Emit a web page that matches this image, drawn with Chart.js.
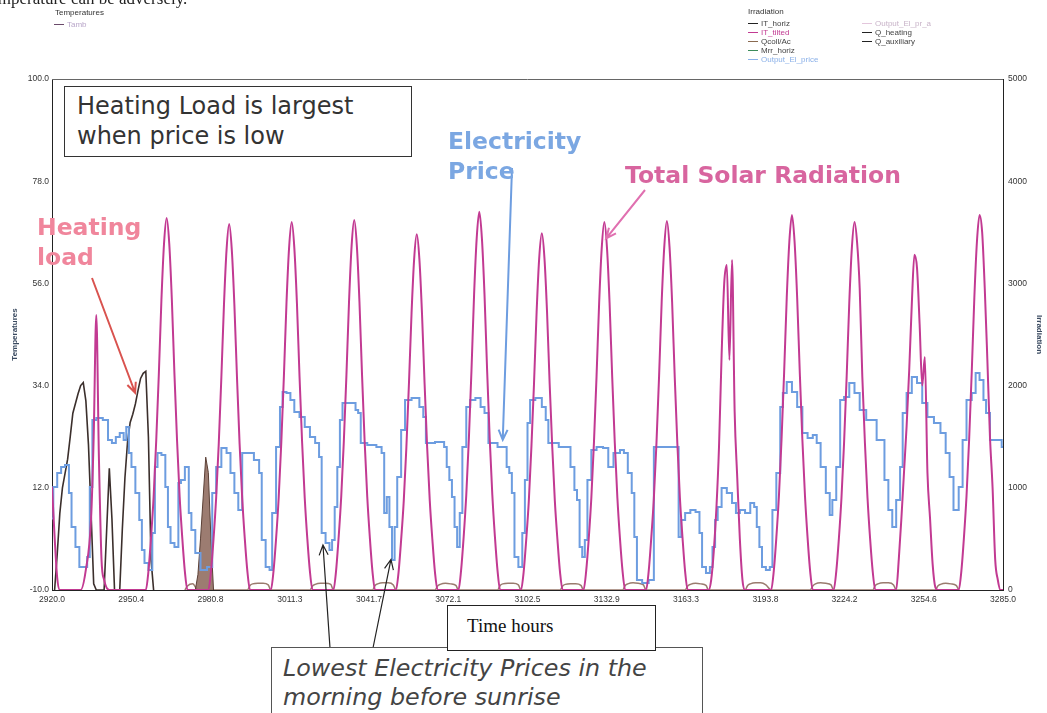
<!DOCTYPE html>
<html>
<head>
<meta charset="utf-8">
<script src="https://cdn.jsdelivr.net/npm/chart.js@4.4.1/dist/chart.umd.min.js"></script>
<style>
body { margin:0; background:#fff; width:1047px; height:713px; overflow:hidden; position:relative; }
#c { position:absolute; left:0; top:0; }
.lg { position:absolute; font:8px "Liberation Sans", Arial, sans-serif; color:#444; white-space:nowrap; line-height:9px; }
.sw { display:inline-block; width:10px; height:0; border-top:1.5px solid #222; vertical-align:middle; margin-right:3px; }
.box { position:absolute; background:#fff; box-sizing:border-box; }
.tag { position:absolute; font-family:"DejaVu Sans", Verdana, sans-serif; font-weight:bold; font-size:23.5px; line-height:30px; white-space:nowrap; }
</style>
</head>
<body>
<canvas id="c" width="1047" height="713"></canvas>

<div style="position:absolute;left:-19px;top:-11px;font:17px 'Liberation Serif',serif;color:#222;white-space:nowrap">Temperature can be adversely.</div>

<div class="lg" style="left:55px;top:8px;color:#333">Temperatures</div>
<div class="lg" style="left:54px;top:20px"><span class="sw" style="border-color:#6a4a6a"></span><span style="color:#b9a6c9">Tamb</span></div>

<div class="lg" style="left:748px;top:7px;color:#333">Irradiation</div>
<div class="lg" style="left:748px;top:19px"><span class="sw"></span>IT_horiz</div>
<div class="lg" style="left:748px;top:28px;color:#c23a92"><span class="sw" style="border-color:#c23a92"></span>IT_tilted</div>
<div class="lg" style="left:748px;top:37px"><span class="sw" style="border-color:#8a6a50"></span>Qcoll/Ac</div>
<div class="lg" style="left:748px;top:46px"><span class="sw" style="border-color:#3c8c5a"></span>Mrr_horiz</div>
<div class="lg" style="left:748px;top:55px;color:#8ab0e8"><span class="sw" style="border-color:#8ab0e8"></span>Output_El_price</div>
<div class="lg" style="left:862px;top:19px;color:#c9b4c9"><span class="sw" style="border-color:#e3c6dc"></span>Output_El_pr_a</div>
<div class="lg" style="left:862px;top:28px"><span class="sw"></span>Q_heating</div>
<div class="lg" style="left:862px;top:37px"><span class="sw"></span>Q_auxiliary</div>

<div class="box" style="left:64px;top:86px;width:348px;height:71px;border:1px solid #333;padding:4px 0 0 12px;font:24px 'DejaVu Sans',Verdana,sans-serif;line-height:30px;color:#333">Heating Load is largest<br>when price is low</div>

<div class="tag" style="left:448px;top:126px;color:#7ba7e2">Electricity<br>Price</div>
<div class="tag" style="left:625px;top:160px;color:#d8659f">Total Solar Radiation</div>
<div class="tag" style="left:37px;top:212px;color:#f0869c">Heating<br>load</div>

<div class="box" style="left:271px;top:647px;width:432px;height:80px;border:1px solid #555;padding:6px 0 0 11px;font:italic 23.8px 'DejaVu Sans',Verdana,sans-serif;line-height:29px;color:#444">Lowest Electricity Prices in the<br>morning before sunrise</div>
<div class="box" style="left:447px;top:605px;width:209px;height:46px;border:1.5px solid #222;padding:9px 0 0 19px;font:19px 'Liberation Serif','Times New Roman',serif;color:#111">Time hours</div>

<script>
// axis ticks
const xTicks = [2920.0, 2950.4, 2980.8, 3011.3, 3041.7, 3072.1, 3102.5, 3132.9, 3163.3, 3193.8, 3224.2, 3254.6, 3285.0];
const tempTicks = [-10, 12, 34, 56, 78, 100];
const irrTicks = [0, 1000, 2000, 3000, 4000, 5000];

// IT_tilted, total radiation on the tilted surface
const solarHours = [
  2920, 2921, 2922, 2923,
  2931, 2933, 2935, 2936, 2937, 2938, 2939, 2940, 2942,
  2956, 2957, 2958, 2959, 2960, 2961, 2962, 2963, 2964, 2965, 2966, 2967, 2968, 2969, 2970, 2971, 2972,
  2980, 2981, 2982, 2983, 2984, 2985, 2986, 2987, 2988, 2989, 2990, 2991, 2992, 2993, 2994, 2995, 2996,
  3004, 3005, 3006, 3007, 3008, 3009, 3010, 3011, 3012, 3013, 3014, 3015, 3016, 3017, 3018, 3019, 3020,
  3028, 3029, 3030, 3031, 3032, 3033, 3034, 3035, 3036, 3037, 3038, 3039, 3040, 3041, 3042, 3043, 3044,
  3052, 3053, 3054, 3055, 3056, 3057, 3058, 3059, 3060, 3061, 3062, 3063, 3064, 3065, 3066, 3067, 3068,
  3076, 3077, 3078, 3079, 3080, 3081, 3082, 3083, 3084, 3085, 3086, 3087, 3088, 3089, 3090, 3091, 3092,
  3100, 3101, 3102, 3103, 3104, 3105, 3106, 3107, 3108, 3109, 3110, 3111, 3112, 3113, 3114, 3115, 3116,
  3124, 3125, 3126, 3127, 3128, 3129, 3130, 3131, 3132, 3133, 3134, 3135, 3136, 3137, 3138, 3139, 3140,
  3148, 3149, 3150, 3151, 3152, 3153, 3154, 3155, 3156, 3157, 3158, 3159, 3160, 3161, 3162, 3163, 3164,
  3172, 3173, 3174, 3175, 3176, 3177, 3178, 3179, 3180, 3181, 3182, 3183, 3184, 3185, 3186,
  3196, 3197, 3198, 3199, 3200, 3201, 3202, 3203, 3204, 3205, 3206, 3207, 3208, 3209, 3210, 3211, 3212,
  3220, 3221, 3222, 3223, 3224, 3225, 3226, 3227, 3228, 3229, 3230, 3231, 3232, 3233, 3234, 3235, 3236,
  3244, 3245, 3246, 3247, 3248, 3249, 3250, 3251, 3252, 3253, 3254, 3255, 3256, 3257, 3258, 3259, 3260,
  3268, 3269, 3270, 3271, 3272, 3273, 3274, 3275, 3276, 3277, 3278, 3279, 3280, 3281, 3282, 3283, 3284, 3285
];
const solarValues = [
  1010, 520, 120, 0,
  0, 200, 700, 1500, 2690, 1300, 300, 100, 0,
  0, 180, 510, 910, 1460, 2110, 2840, 3390, 3640, 3390, 2840, 2110, 1460, 910, 510, 180, 0,
  0, 180, 500, 900, 1430, 2080, 2790, 3330, 3580, 3330, 2790, 2080, 1430, 900, 500, 180, 0,
  0, 180, 500, 900, 1440, 2090, 2810, 3350, 3600, 3350, 2810, 2090, 1440, 900, 500, 180, 0,
  0, 180, 510, 910, 1450, 2100, 2820, 3370, 3620, 3370, 2820, 2100, 1450, 910, 510, 180, 0,
  0, 170, 490, 870, 1390, 2020, 2710, 3240, 3480, 3240, 2710, 2020, 1390, 870, 490, 170, 0,
  0, 190, 520, 930, 1480, 2150, 2890, 3440, 3700, 3440, 2890, 2150, 1480, 930, 520, 190, 0,
  0, 170, 490, 870, 1400, 2020, 2720, 3250, 3490, 3250, 2720, 2020, 1400, 870, 490, 170, 0,
  0, 180, 500, 900, 1440, 2090, 2810, 3350, 3600, 3350, 2810, 2090, 1440, 900, 500, 180, 0,
  0, 180, 510, 900, 1440, 2090, 2820, 3360, 3610, 3360, 2820, 2090, 1440, 900, 510, 180, 0,
  0, 100, 380, 800, 1400, 2300, 3000, 3180, 2250, 3230, 1750, 1100, 500, 100, 0,
  0, 180, 510, 920, 1470, 2130, 2860, 3410, 3670, 3410, 2860, 2130, 1470, 920, 510, 180, 0,
  0, 180, 500, 900, 1440, 2090, 2810, 3350, 3600, 3400, 2950, 2090, 1440, 900, 500, 180, 0,
  0, 300, 700, 1150, 1600, 2150, 2800, 3280, 3150, 2600, 2000, 2280, 1150, 700, 250, 30, 0,
  0, 180, 510, 920, 1470, 2130, 2860, 3410, 3670, 3500, 2950, 2250, 1500, 1000, 300, 100, 0, 0
];

// Output_El_price, hourly electricity price
const priceHours = [
  2920, 2921, 2923, 2924, 2926, 2927, 2928, 2930, 2931, 2933, 2934, 2935, 2936, 2938, 2941, 2942, 2944, 2945, 2947, 2948,
  2949, 2950, 2951, 2953, 2954, 2955, 2956, 2958, 2959, 2960, 2961, 2963, 2964, 2965, 2966, 2968, 2969, 2970, 2972, 2973,
  2974, 2976, 2978, 2981, 2982, 2984, 2986, 2988, 2989, 2991, 2992, 2994, 2996, 2999, 3000, 3001, 3003, 3004, 3005, 3007,
  3008, 3009, 3011, 3012, 3014, 3016, 3018, 3020, 3022, 3023, 3024, 3026, 3027, 3028, 3029, 3030, 3031, 3032, 3036, 3037,
  3038, 3039, 3043, 3046, 3047, 3048, 3049, 3050, 3051, 3052, 3053, 3055, 3056, 3060, 3062, 3063, 3064, 3070, 3071, 3072,
  3073, 3074, 3075, 3076, 3077, 3078, 3080, 3081, 3084, 3085, 3087, 3088, 3094, 3095, 3096, 3097, 3098, 3100, 3101, 3102,
  3103, 3104, 3107, 3109, 3110, 3111, 3118, 3120, 3121, 3122, 3123, 3124, 3125, 3126, 3128, 3130, 3133, 3134, 3137, 3139,
  3140, 3142, 3143, 3144, 3145, 3148, 3150, 3152, 3160, 3161, 3162, 3164, 3166, 3168, 3169, 3170, 3172, 3173, 3174, 3175,
  3176, 3178, 3180, 3182, 3183, 3185, 3187, 3189, 3190, 3191, 3192, 3193, 3195, 3196, 3197, 3199, 3200, 3201, 3203, 3205,
  3207, 3209, 3211, 3213, 3214, 3216, 3218, 3219, 3220, 3222, 3223, 3225, 3227, 3229, 3231, 3234, 3239, 3240, 3242, 3243,
  3245, 3246, 3247, 3249, 3251, 3253, 3255, 3257, 3260, 3262, 3264, 3265, 3267, 3269, 3270, 3272, 3274, 3275, 3277, 3278,
  3279, 3281, 3284, 3285
];
const priceValues = [
  700, 1008, 1145, 1204, 1223, 949, 616, 421, 225, 225, 323, 1008, 1663, 1683, 1663, 1468, 1438, 1497, 1536, 1468,
  1595, 1341, 1204, 949, 685, 391, 264, 196, 558, 1204, 1341, 1321, 1008, 616, 460, 421, 1047, 1076, 1204, 753,
  587, 362, 196, 225, 949, 1204, 1390, 1341, 1145, 949, 783, 1341, 1341, 1272, 1145, 489, 225, 196, 753, 1399,
  1791, 1937, 1928, 1859, 1742, 1693, 1595, 1497, 1438, 1301, 558, 460, 391, 489, 812, 1204, 1663, 1830, 1830, 1761,
  1732, 1438, 1419, 1399, 1341, 753, 910, 616, 294, 616, 1106, 1566, 1859, 1879, 1791, 1693, 1438, 1448, 1399, 1204,
  1076, 910, 616, 421, 753, 1399, 1791, 1859, 1879, 1791, 1732, 1438, 1399, 1204, 1145, 949, 323, 225, 558, 1076,
  1634, 1859, 1879, 1791, 1663, 1438, 1399, 1204, 979, 881, 421, 323, 489, 1076, 1370, 1399, 1390, 1204, 1341, 1370,
  1341, 1145, 949, 519, 98, 68, 98, 1399, 1399, 519, 685, 753, 783, 763, 558, 225, 166, 225, 421, 685,
  812, 998, 949, 851, 753, 783, 753, 851, 812, 616, 421, 225, 196, 225, 783, 1145, 1791, 1928, 2035, 1937,
  1791, 1536, 1487, 1517, 1438, 1204, 949, 734, 881, 1204, 1859, 1889, 2025, 1928, 1761, 1663, 1468, 1076, 783, 616,
  881, 1204, 1732, 1928, 2084, 2025, 1830, 1693, 1634, 1536, 1341, 1106, 783, 1008, 1468, 1859, 1928, 2123, 2055, 1859,
  1732, 1468, 1468, 1399
];

// Q_heating, space heating load
const heatHours = [
  2921, 2922, 2923, 2924, 2926, 2927, 2928, 2930, 2931, 2932, 2933, 2934, 2935, 2936, 2937,
  2940, 2941, 2942, 2943, 2944,
  2946, 2947, 2948, 2949, 2950, 2951, 2952, 2953, 2954, 2955, 2956, 2957, 2958, 2959
];
const heatValues = [
  0, 350, 750, 1000, 1280, 1500, 1730, 1920, 2000, 2030, 1850, 1420, 750, 60, 0,
  0, 600, 1190, 700, 0,
  0, 600, 1100, 1450, 1640, 1720, 1820, 1950, 2070, 2120, 2140, 1500, 300, 0
];

// Q_heating burst on the third day (dense on/off switching)
const burstHours = [2975, 2976, 2977, 2978, 2979, 2980, 2981, 2982];
const burstValues = [0, 150, 500, 900, 1300, 1150, 500, 0];

// Q_auxiliary, small night-time load
const auxHours = [
  2971, 2972, 2974, 2976,
  2995, 2996, 2997, 2999, 3001, 3003, 3004,
  3019, 3020, 3021, 3023, 3025, 3027, 3028,
  3043, 3044, 3045, 3047, 3049, 3051, 3052,
  3067, 3068, 3069, 3071, 3073, 3075, 3076,
  3091, 3092, 3093, 3095, 3097, 3099, 3100,
  3115, 3116, 3117, 3119, 3121, 3123, 3124,
  3139, 3140, 3141, 3143, 3145, 3147, 3148,
  3163, 3164, 3165, 3167, 3169, 3171, 3172,
  3186, 3187, 3188, 3190, 3192, 3194, 3196,
  3211, 3212, 3213, 3215, 3217, 3219, 3220,
  3235, 3236, 3237, 3239, 3241, 3243, 3244,
  3259, 3260, 3261, 3263, 3265, 3267, 3268
];
const auxValues = [
  0, 40, 60, 0,
  0, 45, 60, 65, 65, 50, 0,
  0, 40, 55, 65, 65, 55, 0,
  0, 45, 60, 70, 70, 50, 0,
  0, 40, 55, 65, 60, 45, 0,
  0, 45, 60, 65, 65, 50, 0,
  0, 40, 55, 60, 60, 45, 0,
  0, 45, 60, 70, 65, 50, 0,
  0, 40, 55, 65, 60, 45, 0,
  0, 45, 60, 70, 70, 50, 0,
  0, 40, 60, 70, 65, 50, 0,
  0, 45, 60, 70, 70, 50, 0,
  0, 40, 55, 65, 60, 45, 0
];

// annotation arrows: tail in page pixels, head at a chart value
const pointers = [
  { from: [512, 168], hour: 3093, value: 1470, color: '#6d9de0', width: 2 },
  { from: [645, 190], hour: 3132.7, value: 3440, color: '#e070b0', width: 2 },
  { from: [92, 278], hour: 2951.9, value: 1930, color: '#d9534f', width: 2 },
  { from: [330, 648], hour: 3024, value: 440, color: '#222', width: 1.2 },
  { from: [373, 648], hour: 3050.1, value: 300, color: '#222', width: 1.2 }
];

function pts(hours, values) {
  return hours.map((h, i) => ({ x: h, y: values[i] }));
}

function drawArrow(ctx, x1, y1, x2, y2, color, width) {
  const ang = Math.atan2(y2 - y1, x2 - x1);
  const len = 11, spread = 0.42;
  ctx.strokeStyle = color;
  ctx.lineWidth = width;
  ctx.beginPath();
  ctx.moveTo(x1, y1);
  ctx.lineTo(x2, y2);
  ctx.moveTo(x2 - len * Math.cos(ang - spread), y2 - len * Math.sin(ang - spread));
  ctx.lineTo(x2, y2);
  ctx.lineTo(x2 - len * Math.cos(ang + spread), y2 - len * Math.sin(ang + spread));
  ctx.stroke();
}

const overlay = {
  id: 'overlay',
  afterDatasetsDraw(chart) {
    const { ctx, chartArea: a, scales } = chart;
    ctx.save();
    // top edge of the plot frame
    ctx.strokeStyle = '#666';
    ctx.lineWidth = 1;
    ctx.beginPath();
    ctx.moveTo(a.left, a.top + 0.5);
    ctx.lineTo(a.right, a.top + 0.5);
    ctx.stroke();
    pointers.forEach(p => {
      drawArrow(ctx, p.from[0], p.from[1],
        scales.x.getPixelForValue(p.hour), scales.yI.getPixelForValue(p.value), p.color, p.width);
    });
    ctx.restore();
  }
};

const tickFont = { family: 'Liberation Sans', size: 8.5 };
const titleFont = { family: 'Liberation Sans', size: 8, weight: 'bold' };

new Chart(document.getElementById('c'), {
  type: 'line',
  data: {
    datasets: [
      { label: 'IT_tilted', data: pts(solarHours, solarValues), yAxisID: 'yI',
        borderColor: '#c23a92', borderWidth: 2, cubicInterpolationMode: 'monotone', order: 0 },
      { label: 'Output_El_price', data: pts(priceHours, priceValues), yAxisID: 'yI',
        borderColor: '#6d9de0', borderWidth: 2, stepped: 'middle', order: 1 },
      { label: 'Q_heating', data: pts(heatHours, heatValues), yAxisID: 'yI',
        borderColor: '#3b2f2c', borderWidth: 1.6, order: 2 },
      { label: 'Q_heating burst', data: pts(burstHours, burstValues), yAxisID: 'yI',
        borderColor: '#5a3f35', backgroundColor: 'rgba(139,101,88,0.85)', borderWidth: 1, fill: 'origin', order: 3 },
      { label: 'Q_auxiliary', data: pts(auxHours, auxValues), yAxisID: 'yI',
        borderColor: '#9a7b6e', borderWidth: 1.5, cubicInterpolationMode: 'monotone', order: 4 }
    ]
  },
  options: {
    responsive: false,
    animation: false,
    devicePixelRatio: 1,
    layout: { padding: { top: 79, bottom: 103, left: 0, right: 0 } },
    elements: { point: { radius: 0 }, line: { tension: 0 } },
    plugins: { legend: { display: false }, tooltip: { enabled: false } },
    scales: {
      x: {
        type: 'linear', min: 2920, max: 3285,
        afterBuildTicks: s => { s.ticks = xTicks.map(v => ({ value: v })); },
        afterFit: s => { s.height = 20; },
        ticks: { autoSkip: false, maxRotation: 0, padding: 5, color: '#333', font: tickFont,
          callback: v => v.toFixed(1) },
        grid: { display: false, drawTicks: false },
        border: { color: '#222', width: 1 }
      },
      yT: {
        position: 'left', min: -10, max: 100,
        afterBuildTicks: s => { s.ticks = tempTicks.map(v => ({ value: v })); },
        afterFit: s => { s.width = 52; },
        ticks: { padding: 3, color: '#333', font: tickFont, callback: v => v.toFixed(1) },
        grid: { display: false, drawTicks: false },
        border: { color: '#222', width: 1 },
        title: { display: true, text: 'Temperatures', color: '#3a4a60', font: titleFont, padding: { top: 10, bottom: 0 } }
      },
      yI: {
        position: 'right', min: 0, max: 5000,
        afterBuildTicks: s => { s.ticks = irrTicks.map(v => ({ value: v })); },
        afterFit: s => { s.width = 44; },
        ticks: { padding: 5, color: '#333', font: tickFont, callback: v => String(v) },
        grid: { display: false, drawTicks: false },
        border: { color: '#222', width: 1 },
        title: { display: true, text: 'Irradiation', color: '#3a4a60', font: titleFont, padding: { top: 3, bottom: 0 } }
      }
    }
  },
  plugins: [overlay]
});
</script>
</body>
</html>
